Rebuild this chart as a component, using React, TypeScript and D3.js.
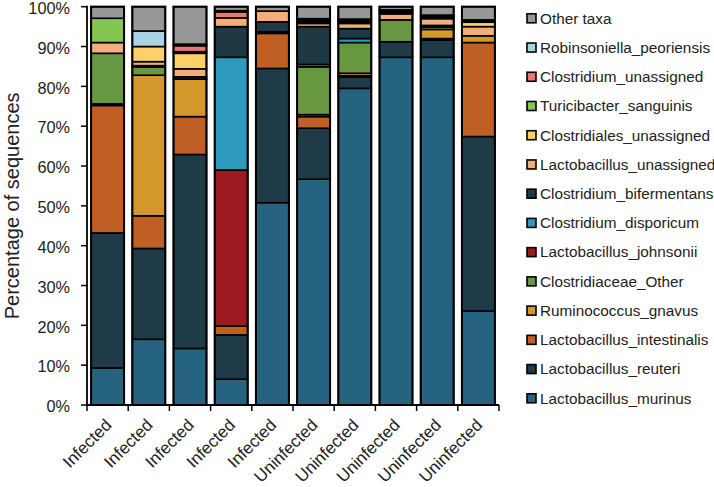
import React from "react";
import * as d3 from "d3";

const samples = ["Infected","Infected","Infected","Infected","Infected","Uninfected","Uninfected","Uninfected","Uninfected","Uninfected"];

// stack order bottom -> top
const taxa = [
  "Lactobacillus_murinus",
  "Lactobacillus_reuteri",
  "Lactobacillus_intestinalis",
  "Ruminococcus_gnavus",
  "Clostridiaceae_Other",
  "Lactobacillus_johnsonii",
  "Clostridium_disporicum",
  "Clostridium_bifermentans",
  "Lactobacillus_unassigned",
  "Clostridiales_unassigned",
  "Turicibacter_sanguinis",
  "Clostridium_unassigned",
  "Robinsoniella_peoriensis",
  "Other taxa",
];

const colors = ["#256381","#1f3b47","#bf5f26","#d3972c","#679740","#9d1b20","#2e9abb","#1e3844","#f2ae7b","#fdd167","#85c552","#ee7474","#a8d4e6","#979797"];

const murinus      = [9.3, 16.5, 14.2, 6.5, 50.8, 56.7, 79.5, 87.3, 87.3, 23.6];
const reuteri      = [33.9, 22.8, 48.7, 11.1, 33.7, 12.8, 2.8, 3.9, 4.3, 43.8];
const intestinalis = [32.0, 8.2, 9.5, 2.2, 8.8, 2.9, 0.4, 0, 0.4, 23.6];
const gnavus       = [0.4, 35.3, 9.4, 0, 0.4, 0.5, 0.6, 0, 2.3, 1.7];
const clostOther   = [12.7, 2.1, 0, 0, 0, 12.0, 7.7, 5.5, 0.6, 0];
const johnsonii    = [0, 0, 0, 39.2, 0, 0, 0, 0, 0, 0];
const disporicum   = [0, 0, 0, 28.3, 0, 0.6, 1.0, 0, 0, 0];
const bifermentans = [0, 0.3, 0.6, 7.7, 2.5, 9.5, 2.5, 0, 0.4, 0];
const lactUn       = [2.7, 1.0, 2.0, 2.2, 2.7, 0.8, 1.3, 1.5, 1.7, 2.3];
const clostridialesUn = [0, 3.8, 3.9, 0, 0, 0.4, 0.4, 0.4, 0.4, 1.1];
const turicibacter = [6.1, 0, 0.4, 0, 0, 0.4, 0.4, 0.3, 0.3, 0.3];
const clostUn      = [0, 0, 1.5, 1.5, 0, 0.4, 0, 0.3, 0.2, 0.3];
const robinsoniella = [0, 3.9, 0.4, 0.3, 0, 0, 0.3, 0, 0, 0];
const otherTaxa    = [2.9, 6.1, 9.4, 1.0, 1.1, 3.0, 3.1, 0.8, 2.1, 3.3];

const series = [murinus, reuteri, intestinalis, gnavus, clostOther, johnsonii, disporicum, bifermentans, lactUn, clostridialesUn, turicibacter, clostUn, robinsoniella, otherTaxa];

const yTicks = [0, 10, 20, 30, 40, 50, 60, 70, 80, 90, 100];

const W = 714, H = 487;
const left = 87, right = 499, top = 6.7, bottom = 405;
const font = "'Liberation Sans', Arial, sans-serif";

export default function App() {
  const x = d3.scaleBand<number>().domain(d3.range(samples.length)).range([left, right]).paddingInner(0.2).paddingOuter(0.1);
  const y = d3.scaleLinear().domain([0, 100]).range([bottom, top]);

  const rows = samples.map((s, i) => {
    const r: any = { idx: i };
    taxa.forEach((t, k) => (r[t] = series[k][i]));
    return r;
  });
  const stacked = d3.stack<any>().keys(taxa)(rows);
  const step = (right - left) / samples.length;

  const legendTop = 18.3, legendStep = 29.23;
  const legendItems = taxa.map((t, k) => ({ t, c: colors[k] })).reverse();

  return (
    <svg width={W} height={H} style={{ position: "absolute", left: 0, top: 0, background: "#fff" }}>
      <g>
        {stacked.map((layer, k) =>
          layer.map((d, i) => {
            const h = y(d[0]) - y(d[1]);
            if (h <= 0) return null;
            return (
              <rect key={k + "-" + i} x={x(i)} y={y(d[1])} width={x.bandwidth()} height={h}
                fill={colors[k]} stroke="#000" strokeWidth={1.6} />
            );
          })
        )}
        {samples.map((s, i) => (
          <rect key={"o" + i} x={x(i)} y={y(100)} width={x.bandwidth()} height={y(0) - y(100)} fill="none" stroke="#000" strokeWidth={2} />
        ))}
      </g>
      {/* axes */}
      <line x1={left} x2={left} y1={top - 1} y2={bottom} stroke="#000" strokeWidth={1.8} />
      <line x1={left} x2={right} y1={bottom} y2={bottom} stroke="#000" strokeWidth={1.8} />
      {yTicks.map((t) => (
        <g key={"y" + t}>
          <line x1={left - 6} x2={left} y1={y(t)} y2={y(t)} stroke="#000" strokeWidth={1.5} />
          <text x={left - 17} y={y(t) + 1} dy="0.38em" textAnchor="end" fontFamily={font} fontSize={16.3} fill="#222">{t + "%"}</text>
        </g>
      ))}
      {d3.range(samples.length + 1).map((i) => (
        <line key={"xt" + i} x1={left + i * step} x2={left + i * step} y1={bottom} y2={bottom + 6} stroke="#000" strokeWidth={1.5} />
      ))}
      {samples.map((s, i) => {
        const cx = (x(i) as number) + x.bandwidth() / 2 + 5;
        const cy = bottom + 21;
        return (
          <text key={"xl" + i} x={cx} y={cy} transform={`rotate(-45 ${cx} ${cy})`} textAnchor="end" fontFamily={font} fontSize={17} fill="#222">{s}</text>
        );
      })}
      <text transform={`translate(19 ${(top + bottom) / 2}) rotate(-90)`} textAnchor="middle" fontFamily={font} fontSize={20} fill="#222">Percentage of sequences</text>
      {legendItems.map((it, j) => {
        const cy = legendTop + j * legendStep;
        return (
          <g key={"l" + j}>
            <rect x={527} y={cy - 4.5} width={9} height={9} fill={it.c} stroke="#000" strokeWidth={1.6} />
            <text x={540} y={cy} dy="0.35em" fontFamily={font} fontSize={15.3} fill="#222">{it.t}</text>
          </g>
        );
      })}
    </svg>
  );
}
